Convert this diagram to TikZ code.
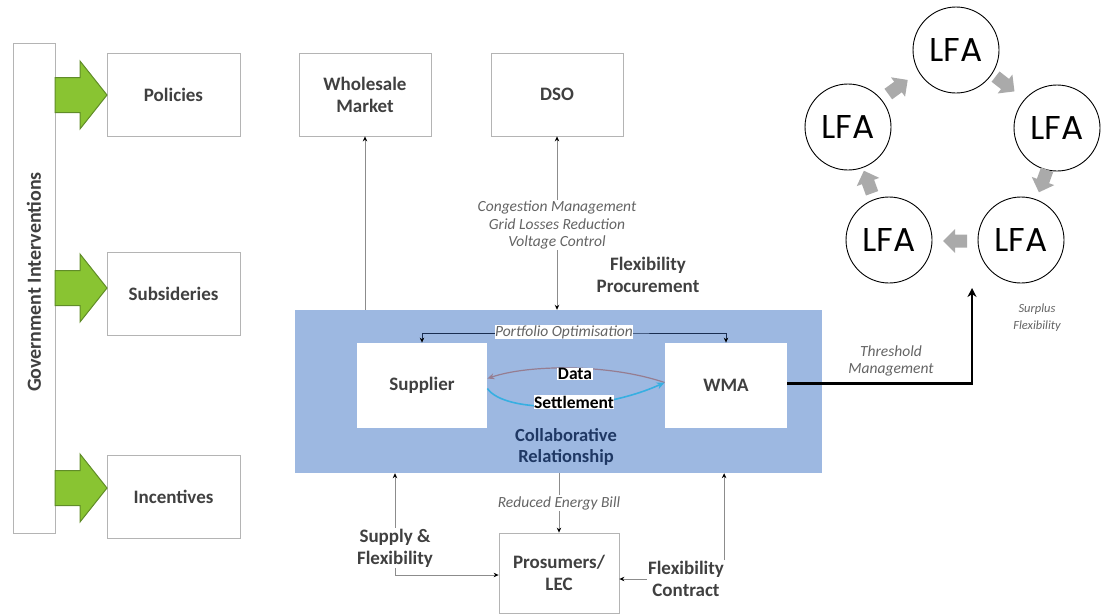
\documentclass[tikz,border=0pt]{standalone}
\usepackage{fontspec}
\setmainfont{Carlito}
\newfontfamily\lfafont{Poppins}
\usetikzlibrary{arrows.meta}
\definecolor{boxline}{RGB}{180,180,180}
\definecolor{boxtext}{RGB}{64,64,64}
\definecolor{gfill}{RGB}{137,196,50}
\definecolor{gline}{RGB}{96,140,40}
\definecolor{bluefill}{RGB}{157,184,225}
\definecolor{collab}{RGB}{31,56,100}
\definecolor{connline}{RGB}{140,140,140}
\definecolor{labgray}{RGB}{100,100,100}
\definecolor{arrgray}{RGB}{170,170,170}
\definecolor{datacol}{RGB}{150,125,145}
\definecolor{settlecol}{RGB}{55,175,225}
\begin{document}
\begin{tikzpicture}[x=1pt,y=-1pt,
  box/.style={draw=boxline, line width=0.8pt, fill=white, align=center, inner sep=0pt,
    font=\bfseries\fontsize{19}{22}\selectfont, text=boxtext},
  boldlab/.style={align=center, inner sep=1pt, font=\bfseries\fontsize{19}{22}\selectfont, text=boxtext},
  itlab/.style={align=center, inner sep=1pt, font=\itshape\fontsize{15.5}{17.5}\selectfont, text=labgray},
  conn/.style={draw=connline, line width=0.8pt, -{Stealth[length=5pt,width=4.5pt,black]}},
  lfa/.style={circle, draw=black, line width=0.9pt, minimum size=86pt, inner sep=0pt,
    font=\lfafont\fontsize{33}{33}\selectfont},
  garrow/.pic={\draw[fill=gfill, draw=gline, line width=1pt]
     (0,-17.5) -- (25,-17.5) -- (25,-34) -- (52,0) -- (25,34) -- (25,17.5) -- (0,17.5) -- cycle;},
  grayarr/.pic={\fill[arrgray] (-12,-6.5) -- (0,-6.5) -- (0,-12) -- (12,0) -- (0,12) -- (0,6.5) -- (-12,6.5) -- cycle;}
]
\useasboundingbox (0,0) rectangle (1102,614);

% Government interventions
\node[box, minimum width=42pt, minimum height=490pt] (gov) at (34,288) {};
\node[rotate=90, font=\bfseries\fontsize{20}{22}\selectfont, text=boxtext] (govtext) at (34,282) {Government Interventions};

\node[box, minimum width=133pt, minimum height=83pt] (pol) at (173.5,94.5) {Policies};
\node[box, minimum width=133pt, minimum height=83pt] (sub) at (173.5,293.5) {Subsideries};
\node[box, minimum width=133pt, minimum height=83pt] (inc) at (173.5,496.5) {Incentives};

\pic at (55,95) {garrow};
\pic at (55,288) {garrow};
\pic at (55,488) {garrow};

% top boxes
\node[box, minimum width=132pt, minimum height=83pt] (wm) at (365,94.5) {Wholesale\\Market};
\node[box, minimum width=132pt, minimum height=83pt] (dso) at (557,94.5) {DSO};

% blue box
\node[fill=bluefill, minimum width=527pt, minimum height=163pt, inner sep=0pt] (blue) at (558.5,391.5) {};
\node[box, draw=none, minimum width=130pt, minimum height=85pt] (sup) at (422,385.5) {Supplier};
\node[box, draw=none, minimum width=122pt, minimum height=85pt] (wma) at (726,385.5) {WMA};

% arrows top
\draw[conn] (wm.south |- blue.north) -- (wm.south);
\draw[conn, {Stealth[length=5pt,width=4.5pt,black]}-{Stealth[length=5pt,width=4.5pt,black]}] (dso.south) -- (dso.south |- blue.north);
\node[itlab, fill=white] (dsolab) at (557,225) {Congestion Management\\Grid Losses Reduction\\Voltage Control};
\node[boldlab] (flexproc) at (648,275) {Flexibility\\Procurement};

% portfolio optimisation
\coordinate (pline) at (574,333);
\draw[conn, draw=collab!80!black, line width=0.7pt, {Stealth[length=5pt,width=4.5pt,black]}-{Stealth[length=5pt,width=4.5pt,black]}]
  (sup.north) |- (pline) -| (wma.north);
\node[itlab, fill=white, inner sep=0.5pt] (port) at (564,332) {Portfolio Optimisation};

% data / settlement
\draw[datacol, line width=1.2pt, -{Stealth[length=7pt,width=6pt]}]
  ([yshift=3pt]wma.west) .. controls (610,364) and (530,364) .. ([yshift=7pt]sup.east);
\draw[settlecol, line width=1.6pt, -{Stealth[length=8pt,width=7pt]}]
  ([yshift=-3pt]sup.east) .. controls (505,414) and (600,412) .. ([yshift=3pt]wma.west);
\node[font=\bfseries\fontsize{17.5}{19}\selectfont, text=black, fill=white, inner sep=0.5pt] (data) at (575,374) {Data};
\node[font=\bfseries\fontsize{17.5}{19}\selectfont, text=black, fill=white, inner sep=0.5pt] (settle) at (574,402) {Settlement};

\node[align=center, font=\bfseries\fontsize{18.5}{21.5}\selectfont, text=collab] (collabtxt) at (566,447) {Collaborative\\Relationship};

% bottom
\node[box, minimum width=120pt, minimum height=80pt] (pros) at (559,573) {Prosumers/\\LEC};
\node[boldlab] (sf) at (395,548) {Supply \&\\Flexibility};
\node[boldlab] (fc) at (686,579) {Flexibility\\Contract};

\draw[conn] (sf.north) -- (sf.north |- blue.south);
\draw[conn] (sf.south) |- ([yshift=-2pt]pros.west);
\draw[conn] ([xshift=-1pt]fc.north east) -- ([xshift=-1pt]fc.north east |- blue.south);
\draw[conn] (fc.west) -- (fc.west -| pros.east);
\draw[conn] (blue.south -| pros.north) -- (pros.north);
\node[itlab, fill=white] (reb) at (559,503) {Reduced Energy Bill};

% LFA ring
\node[lfa] (l1) at (956,50) {LFA};
\node[lfa] (l2) at (1057,128) {LFA};
\node[lfa] (l3) at (1021,240) {LFA};
\node[lfa] (l4) at (889,240) {LFA};
\node[lfa] (l5) at (848,127) {LFA};
\pic[rotate=36] at (898,87) {grayarr};
\pic[rotate=-38] at (1005,84) {grayarr};
\pic[rotate=-110] at (1043,181) {grayarr};
\pic[rotate=180] at (955,241) {grayarr};
\pic[rotate=110] at (868,182) {grayarr};

% threshold
\coordinate (thr) at (972,288);
\draw[black, line width=2.8pt, -{Stealth[length=9pt,width=9pt]}] ([yshift=2pt]wma.east) -| (thr);
\node[itlab] (thrlab) at (891,361) {Threshold\\Management};
\node[itlab, font=\itshape\fontsize{12.5}{17}\selectfont] (surplab) at (1037,318) {Surplus\\Flexibility};
\end{tikzpicture}
\end{document}
